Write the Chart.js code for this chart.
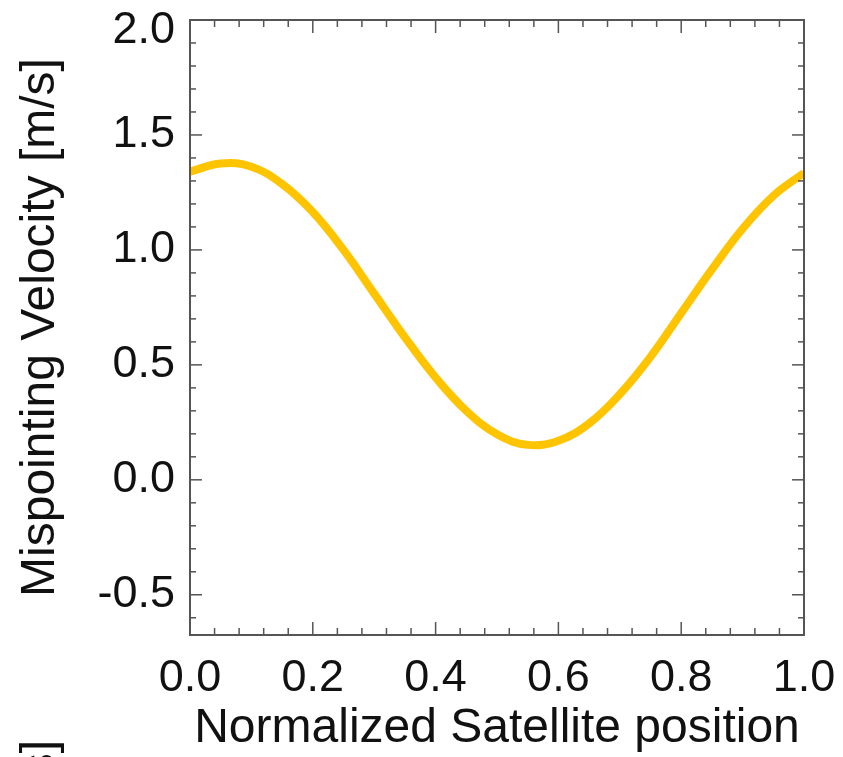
<!DOCTYPE html>
<html>
<head>
<meta charset="utf-8">
<title>Mispointing Velocity</title>
<script src="https://cdn.jsdelivr.net/npm/chart.js@4.4.1/dist/chart.umd.min.js"></script>
<style>
  html, body { margin: 0; padding: 0; background: #fff; }
  #wrap { position: relative; width: 843px; height: 757px; }
</style>
</head>
<body>
<div id="wrap"><canvas id="c"></canvas></div>
<script>
// Normalized satellite position along the orbit and the mispointing velocity there [m/s]
const positions = [0.00, 0.05, 0.10, 0.15, 0.20, 0.25, 0.30, 0.35, 0.40, 0.45, 0.50,
                   0.55, 0.60, 0.65, 0.70, 0.75, 0.80, 0.85, 0.90, 0.95, 1.00];
const velocity  = [1.340, 1.376, 1.362, 1.287, 1.165, 1.000, 0.810, 0.620, 0.445, 0.300, 0.198,
                   0.152, 0.170, 0.245, 0.372, 0.535, 0.725, 0.915, 1.092, 1.235, 1.335];

// Axis ranges, labelled ticks and minor tick spacing
const xRange = [0, 1];
const yRange = [-0.675, 2.0];
const xTickValues = [0.0, 0.2, 0.4, 0.6, 0.8, 1.0];
const yTickValues = [-0.5, 0.0, 0.5, 1.0, 1.5, 2.0];
const xMinorStep = 0.04;
const yMinorStep = 0.1;

const xTitle = 'Normalized Satellite position';
const yTitle = 'Mispointing Velocity [m/s]';

const FONT = '"Liberation Sans", Arial, Helvetica, sans-serif';
const INK = '#111';
const FRAME = '#555';
const TICK_FONT_SIZE = 45;
const TITLE_FONT_SIZE = 48;
const fmt = v => Number(v).toFixed(1);
const isTopTick = v => Math.abs(v - yRange[1]) < 1e-9;

// Box frame with inward-pointing ticks on all four sides
const framePlugin = {
  id: 'boxFrame',
  afterDatasetsDraw(chart) {
    const { ctx, chartArea: a, scales: { x, y } } = chart;
    const isMajor = (v, majors) => majors.some(m => Math.abs(m - v) < 1e-6);
    const seg = (x1, y1, x2, y2) => { ctx.beginPath(); ctx.moveTo(x1, y1); ctx.lineTo(x2, y2); ctx.stroke(); };
    ctx.save();
    ctx.strokeStyle = FRAME;
    ctx.lineWidth = 1.5;
    for (let k = Math.ceil(xRange[0] / xMinorStep - 1e-9); k <= Math.floor(xRange[1] / xMinorStep + 1e-9); k++) {
      const v = k * xMinorStep;
      const px = x.getPixelForValue(v);
      const len = isMajor(v, xTickValues) ? 13 : 7;
      seg(px, a.bottom, px, a.bottom - len);
      seg(px, a.top, px, a.top + len);
    }
    for (let k = Math.ceil(yRange[0] / yMinorStep - 1e-9); k <= Math.floor(yRange[1] / yMinorStep + 1e-9); k++) {
      const v = k * yMinorStep;
      const py = y.getPixelForValue(v);
      const len = isMajor(v, yTickValues) ? 12 : 6;
      seg(a.left, py, a.left + len, py);
      seg(a.right, py, a.right - len, py);
    }
    ctx.lineWidth = 2;
    ctx.strokeRect(a.left, a.top, a.right - a.left, a.bottom - a.top);

    // the label of the top tick sits a little below the frame edge
    const topVal = yTickValues.find(isTopTick);
    if (topVal !== undefined) {
      ctx.fillStyle = INK;
      ctx.font = TICK_FONT_SIZE + 'px ' + FONT;
      ctx.textAlign = 'right';
      ctx.textBaseline = 'middle';
      ctx.fillText(fmt(topVal), a.left - 15, y.getPixelForValue(topVal) + 11);
    }
    ctx.restore();
  }
};

// y-axis title of the panel below, cut off by the bottom edge of the canvas
const lowerTitlePlugin = {
  id: 'lowerTitle',
  afterDraw(chart) {
    const { ctx } = chart;
    ctx.save();
    ctx.translate(41, 740);
    ctx.rotate(-Math.PI / 2);
    ctx.fillStyle = INK;
    ctx.font = TITLE_FONT_SIZE + 'px ' + FONT;
    ctx.textAlign = 'right';
    ctx.textBaseline = 'middle';
    ctx.fillText(yTitle, 0, 0);
    ctx.restore();
  }
};

new Chart(document.getElementById('c'), {
  type: 'line',
  data: {
    datasets: [{
      data: positions.map((p, i) => ({ x: p, y: velocity[i] })),
      borderColor: '#FFC400',
      borderWidth: 8,
      pointRadius: 0,
      tension: 0.4,
      fill: false
    }]
  },
  options: {
    responsive: true,
    maintainAspectRatio: false,
    animation: false,
    layout: { padding: { left: 0, right: 39, top: 20, bottom: 0 } },
    plugins: { legend: { display: false }, tooltip: { enabled: false } },
    scales: {
      x: {
        type: 'linear',
        min: xRange[0],
        max: xRange[1],
        grid: { display: false, drawTicks: false },
        border: { display: false },
        afterBuildTicks: s => { s.ticks = xTickValues.map(v => ({ value: v })); },
        afterFit: s => { s.height = 122; s.paddingLeft = 0; s.paddingRight = 0; },
        ticks: {
          padding: 21, color: INK, autoSkip: false, maxRotation: 0,
          font: { family: FONT, size: TICK_FONT_SIZE, lineHeight: 1 },
          callback: v => fmt(v)
        },
        title: {
          display: true, text: xTitle, color: INK,
          font: { family: FONT, size: TITLE_FONT_SIZE, lineHeight: 1 },
          padding: { top: 0, bottom: 4 }
        }
      },
      y: {
        type: 'linear',
        min: yRange[0],
        max: yRange[1],
        grid: { display: false, drawTicks: false },
        border: { display: false },
        afterBuildTicks: s => { s.ticks = yTickValues.map(v => ({ value: v })); },
        afterFit: s => { s.width = 190; s.paddingTop = 0; s.paddingBottom = 0; },
        ticks: {
          padding: 15, color: INK, autoSkip: false,
          font: { family: FONT, size: TICK_FONT_SIZE, lineHeight: 1 },
          callback: v => (isTopTick(v) ? '' : fmt(v))
        },
        title: {
          display: true, text: yTitle, color: INK,
          font: { family: FONT, size: TITLE_FONT_SIZE, lineHeight: 1 },
          padding: { top: 17, bottom: 0 }
        }
      }
    }
  },
  plugins: [framePlugin, lowerTitlePlugin]
});
</script>
</body>
</html>
